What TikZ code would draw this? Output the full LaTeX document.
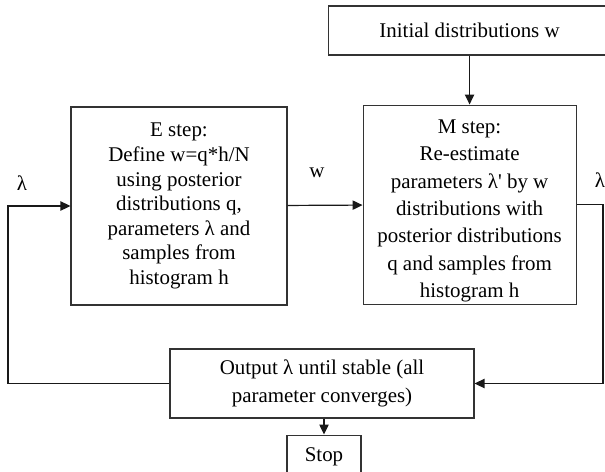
\documentclass[tikz,border=0pt]{standalone}
\usepackage{fontspec}
\setmainfont{Liberation Serif}
\usetikzlibrary{arrows.meta, positioning, calc}

\begin{document}
\begin{tikzpicture}[
    x=0.75pt, y=-0.75pt,
    node distance=12pt and 12pt,
    box/.style={rectangle, draw=black!80, line width=0.8pt, align=center, inner sep=0pt, font=\fontsize{15.7}{18.4}\selectfont},
    lbl/.style={inner sep=0pt, font=\fontsize{15.7}{18.4}\selectfont},
    arrow/.style={draw=black!90, line width=0.9pt, ->, >={Triangle[length=7.5pt, width=7pt]}}
]
    \useasboundingbox (0,0) rectangle (605,471);

    \node [box, minimum width=162pt, minimum height=148.5pt] (estep) at (179,206) {E step:\\ Define w=q*h/N\\ using posterior\\ distributions q,\\ parameters λ and\\ samples from\\ histogram h};
    \node [box, minimum width=159.75pt, minimum height=149.25pt, font=\fontsize{15.7}{20.5}\selectfont, right=56.25pt of estep, yshift=1.1pt] (mstep) {\rule{0pt}{20pt}M step:\\ Re-estimate\\ parameters λ\textquotesingle{} by w\\ distributions with\\ posterior distributions\\ q and samples from\\ histogram h};
    \node [box, minimum width=211.5pt, minimum height=36.75pt, above=36.75pt of mstep] (init) {Initial distributions w};

    \node [box, minimum width=228pt, minimum height=51.75pt, font=\fontsize{15.7}{21}\selectfont] (output) at (322,383.5) {Output λ until stable (all\\ parameter converges)};
    \node [box, minimum width=55.5pt, minimum height=33pt, below=12pt of output, xshift=1.5pt] (stop) {Stop};

    % feedback rails
    \coordinate (lrail) at (8,300);
    \coordinate (rrail) at (603,300);
    \node [lbl] (lamleft) at (22,183) {λ};
    \node [lbl] (lamright) at (600,180) {λ};

    \draw [arrow] (init) -- (mstep);
    \draw [arrow] (estep) -- (mstep) node[lbl, midway, above=20.5pt, xshift=-6pt] (wlbl) {w};
    \draw [arrow] (output.west) -| (lrail) |- (estep.west);
    \draw [arrow] (mstep.east) -| (rrail) |- (output.east);
    \draw [arrow] (stop.north |- output.south) -- (stop.north);
\end{tikzpicture}
\end{document}
